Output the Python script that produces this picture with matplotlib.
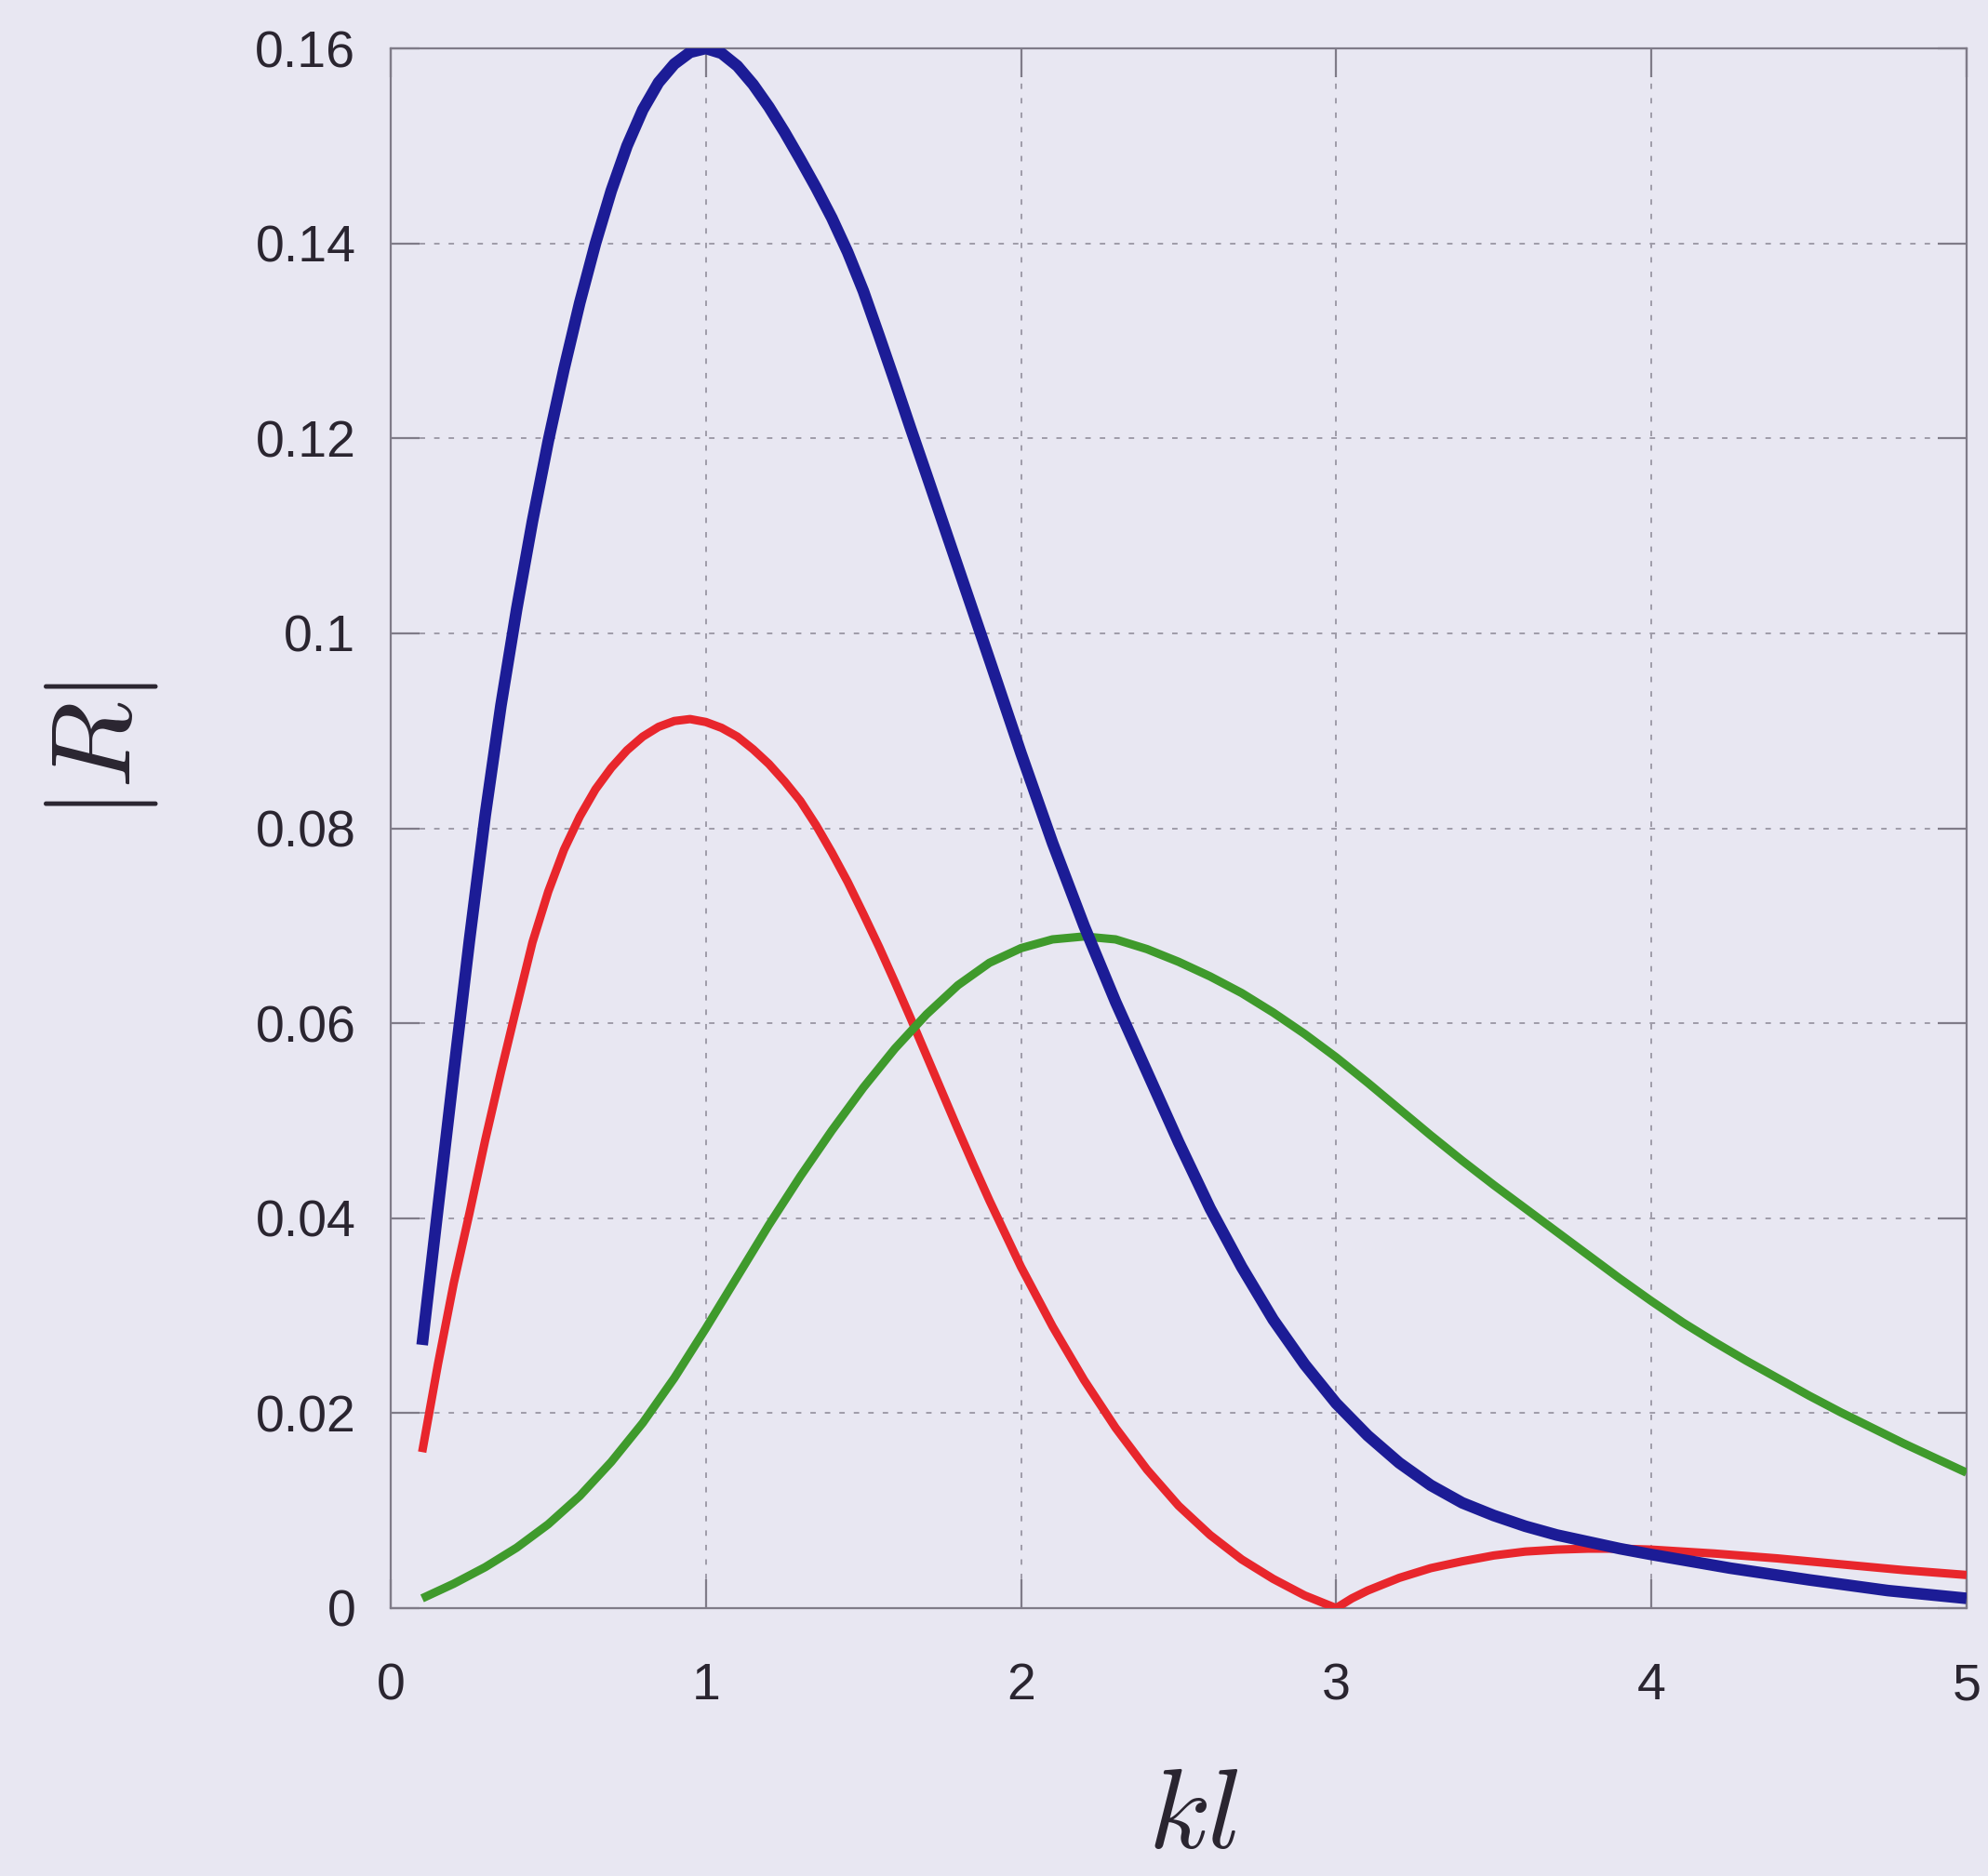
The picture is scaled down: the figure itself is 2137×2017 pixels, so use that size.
import matplotlib
matplotlib.use("Agg")
import matplotlib.pyplot as plt

# 배경/선 색상 (스캔 이미지 느낌)
BG     = "#e8e7f2"
SPINE  = "#7f7b88"
GRIDC  = "#9e9ba8"
TEXT   = "#2a2530"
BLUE   = "#1c1c96"
RED    = "#e8262c"
GREEN  = "#3f9a2c"

# ── 데이터 ──
blue_x = [0.10, 0.15, 0.20, 0.25, 0.30, 0.35, 0.40, 0.45, 0.50, 0.55, 0.60,
          0.65, 0.70, 0.75, 0.80, 0.85, 0.90, 0.95, 1.00, 1.05, 1.10, 1.15,
          1.20, 1.25, 1.30, 1.35, 1.40, 1.45, 1.50, 1.55, 1.60, 1.65, 1.70,
          1.80, 1.90, 2.00, 2.10, 2.20, 2.30, 2.40, 2.50, 2.60, 2.70, 2.80,
          2.90, 3.00, 3.10, 3.20, 3.30, 3.40, 3.50, 3.60, 3.70, 3.80, 3.90,
          4.00, 4.25, 4.50, 4.75, 5.00]
blue_y = [0.0270, 0.0410, 0.0549, 0.0685, 0.0813, 0.0926, 0.1025, 0.1115, 0.1197, 0.1271, 0.1339,
          0.1400, 0.1454, 0.1500, 0.1537, 0.1565, 0.1584, 0.1596, 0.1600, 0.1595, 0.1582, 0.1563,
          0.1540, 0.1514, 0.1486, 0.1457, 0.1426, 0.1391, 0.1351, 0.1305, 0.1258, 0.1210, 0.1163,
          0.1068, 0.0973, 0.0877, 0.0785, 0.0700, 0.0622, 0.0550, 0.0478, 0.0410, 0.0350, 0.0296,
          0.0250, 0.0210, 0.0177, 0.0149, 0.0126, 0.0108, 0.0095, 0.0084, 0.0075, 0.0068, 0.0061,
          0.0055, 0.0041, 0.0029, 0.0018, 0.0010]

red_x = [0.10, 0.15, 0.20, 0.25, 0.30, 0.35, 0.40, 0.45, 0.50, 0.55, 0.60,
         0.65, 0.70, 0.75, 0.80, 0.85, 0.90, 0.95, 1.00, 1.05, 1.10, 1.15,
         1.20, 1.25, 1.30, 1.35, 1.40, 1.45, 1.50, 1.55, 1.60, 1.65, 1.70,
         1.75, 1.80, 1.85, 1.90, 2.00, 2.10, 2.20, 2.30, 2.40, 2.50, 2.60,
         2.70, 2.80, 2.90, 3.00, 3.05, 3.10, 3.20, 3.30, 3.40, 3.50, 3.60,
         3.70, 3.80, 3.90, 4.00, 4.20, 4.40, 4.60, 4.80, 5.00]
red_y = [0.0160, 0.0250, 0.0333, 0.0405, 0.0480, 0.0550, 0.0617, 0.0683, 0.0735, 0.0778, 0.0812,
         0.0840, 0.0862, 0.0880, 0.0894, 0.0904, 0.0910, 0.0912, 0.0909, 0.0903, 0.0894, 0.0881,
         0.0866, 0.0848, 0.0828, 0.0803, 0.0775, 0.0745, 0.0712, 0.0678, 0.0642, 0.0605, 0.0567,
         0.0529, 0.0491, 0.0454, 0.0418, 0.0350, 0.0289, 0.0234, 0.0185, 0.0142, 0.0105, 0.0075,
         0.0050, 0.0030, 0.0013, 0.0000, 0.0010, 0.0018, 0.0031, 0.0041, 0.0048, 0.0054, 0.0058,
         0.0060, 0.0061, 0.0061, 0.0060, 0.0056, 0.0051, 0.0045, 0.0039, 0.0034]

green_x = [0.10, 0.20, 0.30, 0.40, 0.50, 0.60, 0.70, 0.80, 0.90, 1.00, 1.10,
           1.20, 1.30, 1.40, 1.50, 1.60, 1.70, 1.80, 1.90, 2.00, 2.10, 2.20,
           2.30, 2.40, 2.50, 2.60, 2.70, 2.80, 2.90, 3.00, 3.10, 3.20, 3.30,
           3.40, 3.50, 3.60, 3.70, 3.80, 3.90, 4.00, 4.10, 4.20, 4.30, 4.40,
           4.50, 4.60, 4.70, 4.80, 4.90, 5.00]
green_y = [0.0010, 0.0025, 0.0042, 0.0062, 0.0086, 0.0115, 0.0150, 0.0190, 0.0236, 0.0287, 0.0340,
           0.0393, 0.0443, 0.0490, 0.0534, 0.0574, 0.0609, 0.0639, 0.0662, 0.0677, 0.0686, 0.0689,
           0.0686, 0.0676, 0.0663, 0.0648, 0.0631, 0.0611, 0.0589, 0.0565, 0.0539, 0.0512, 0.0485,
           0.0459, 0.0434, 0.0410, 0.0386, 0.0362, 0.0338, 0.0315, 0.0293, 0.0273, 0.0254, 0.0236,
           0.0218, 0.0201, 0.0185, 0.0169, 0.0154, 0.0139]

x_ticks = [0, 1, 2, 3, 4, 5]
x_labels = ["0", "1", "2", "3", "4", "5"]
y_ticks = [0, 0.02, 0.04, 0.06, 0.08, 0.10, 0.12, 0.14, 0.16]
y_labels = ["0", "0.02", "0.04", "0.06", "0.08", "0.1", "0.12", "0.14", "0.16"]

plt.rcParams["font.family"] = ["Liberation Sans", "DejaVu Sans"]
plt.rcParams["mathtext.fontset"] = "cm"

fig = plt.figure(figsize=(21.37, 20.17), dpi=100, facecolor=BG)
ax = fig.add_axes([0.1965, 0.1428, 0.7927, 0.8314])
ax.set_facecolor(BG)

# ── 곡선 ──
ax.plot(blue_x, blue_y, color=BLUE, lw=9, solid_capstyle="butt",
        solid_joinstyle="round", zorder=4)
ax.plot(red_x, red_y, color=RED, lw=6.5, solid_capstyle="butt",
        solid_joinstyle="round", zorder=3)
ax.plot(green_x, green_y, color=GREEN, lw=6.5, solid_capstyle="butt",
        solid_joinstyle="round", zorder=3)

ax.set_xlim(0, 5)
ax.set_ylim(0, 0.16)
ax.set_xticks(x_ticks)
ax.set_xticklabels(x_labels)
ax.set_yticks(y_ticks)
ax.set_yticklabels(y_labels)

# 점선 격자
ax.grid(True, color=GRIDC, lw=1.4, linestyle=(0, (3, 5)), zorder=1)

for sp in ax.spines.values():
    sp.set_edgecolor(SPINE)
    sp.set_linewidth(1.6)

ax.tick_params(axis="both", which="major", direction="in", length=22, width=1.6,
               color=SPINE, labelcolor=TEXT, labelsize=40,
               top=True, right=True)
ax.tick_params(axis="x", pad=42)
ax.tick_params(axis="y", pad=27)

# 축 라벨
fig.text(109 / 2137, 1 - 807 / 2017, r"$|R|$", fontsize=88, color=TEXT,
         rotation=90, ha="center", va="center")
fig.text(1283 / 2137, 1 - 1955 / 2017, r"$kl$", fontsize=88, color=TEXT,
         ha="center", va="center")

fig.savefig("out.png", dpi=100, facecolor=BG)
plt.close(fig)
